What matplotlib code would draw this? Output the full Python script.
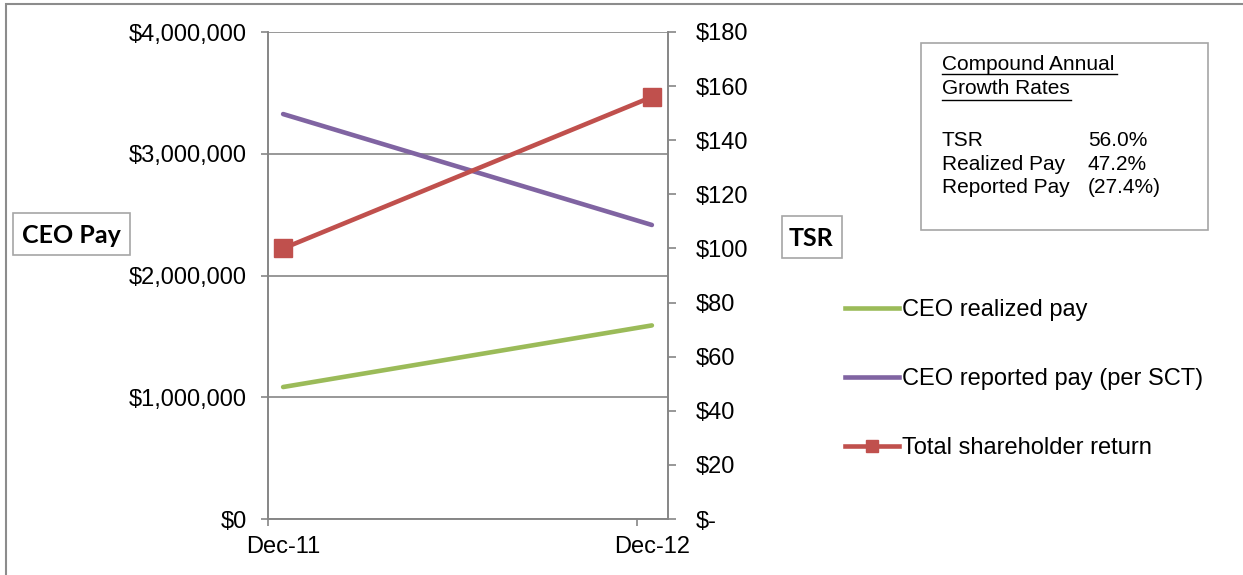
import matplotlib.pyplot as plt
import numpy as np
from matplotlib.patches import Rectangle
from matplotlib.lines import Line2D

dates = np.array(['2011-12-16', '2012-12-16'], dtype='datetime64[D]')
date_labels = ['Dec-11', 'Dec-12']
realized_pay = [1084000, 1590000]
reported_pay = [3326000, 2415000]
tsr = [100, 156]

cagr_rows = [('TSR', '56.0%'), ('Realized Pay', '47.2%'), ('Reported Pay', '(27.4%)')]

plt.rcParams['font.family'] = ['Liberation Sans', 'DejaVu Sans']
plt.rcParams['font.size'] = 17

GREEN = '#9BBB59'
PURPLE = '#8064A2'
RED = '#C0504D'
GRAY = '#868686'

fig = plt.figure(figsize=(12.43, 5.75), dpi=100)
ax = fig.add_axes([268 / 1243, 1 - 519 / 575, 400 / 1243, 487 / 575])
ax2 = ax.twinx()

ax.plot(dates, realized_pay, color=GREEN, lw=3.3, solid_capstyle='round')
ax.plot(dates, reported_pay, color=PURPLE, lw=3.3, solid_capstyle='round')
ax2.plot(dates, tsr, color=RED, lw=3.3, marker='s', markersize=13.5)

# left axis
ax.set_ylim(0, 4000000)
ax.set_yticks(np.arange(0, 4000001, 1000000))
ax.set_yticklabels(['$' + format(v, ',') for v in range(0, 4000001, 1000000)])
ax.grid(axis='y', color=GRAY, lw=1.2)
ax.set_axisbelow(True)

# right axis
ax2.set_ylim(0, 180)
ax2.set_yticks(range(0, 181, 20))
ax2.set_yticklabels(['$-'] + ['$' + str(v) for v in range(20, 181, 20)])

# date axis: tick marks on the 1st, labels under the points
ax.set_xlim(np.datetime64('2011-12-01'), np.datetime64('2013-01-01'))
ax.set_xticks([np.datetime64('2011-12-01'), np.datetime64('2012-12-01')])
ax.set_xticklabels(['', ''])
ax.set_xticks(dates, minor=True)
ax.set_xticklabels(date_labels, minor=True)
ax.tick_params(axis='x', which='minor', length=0, pad=12)
ax.tick_params(axis='x', which='major', length=5, color=GRAY, width=1.2)

ax.tick_params(axis='y', length=5, color=GRAY, width=1.2, pad=10)
ax2.tick_params(axis='y', length=6, color=GRAY, width=1.2, pad=14)
for a in (ax, ax2):
    for s in a.spines.values():
        s.set_color(GRAY)
        s.set_linewidth(1.2)
ax.spines['top'].set_visible(False)
ax2.spines['top'].set_visible(False)

# axis title boxes
fig.patches.append(Rectangle((13 / 1243, 1 - 255 / 575), 117 / 1243, 42 / 575,
                             transform=fig.transFigure, fc='white', ec='#A6A6A6', lw=1.2))
fig.patches.append(Rectangle((782 / 1243, 1 - 258 / 575), 60 / 1243, 42 / 575,
                             transform=fig.transFigure, fc='white', ec='#A6A6A6', lw=1.2))
fig.text(71 / 1243, 1 - 235 / 575, 'CEO Pay', family=['Lato', 'DejaVu Sans'], weight='bold',
         fontsize=18, ha='center', va='center')
fig.text(811 / 1243, 1 - 238 / 575, 'TSR', family=['Lato', 'DejaVu Sans'], weight='bold',
         fontsize=18, ha='center', va='center')

# legend
handles = [
    Line2D([], [], color=GREEN, lw=3.3),
    Line2D([], [], color=PURPLE, lw=3.3),
    Line2D([], [], color=RED, lw=3.3, marker='s', markersize=9),
]
labels = ['CEO realized pay', 'CEO reported pay (per SCT)', 'Total shareholder return']
fig.legend(handles, labels, loc='upper left', bbox_to_anchor=(845 / 1243, 1 - 299 / 575),
           frameon=False, handlelength=2.3, handletextpad=0.1, labelspacing=2.0,
           borderaxespad=0, borderpad=0, numpoints=1)

# CAGR text box
fig.patches.append(Rectangle((921 / 1243, 1 - 230 / 575), 287 / 1243, 187 / 575,
                             transform=fig.transFigure, fc='white', ec='#A6A6A6', lw=1.2))
fig.text(942 / 1243, 1 - 64 / 575, 'Compound Annual', fontsize=15, va='center')
fig.text(942 / 1243, 1 - 89 / 575, 'Growth Rates', fontsize=15, va='center')
fig.add_artist(Line2D([942 / 1243, 1117 / 1243], [1 - 74 / 575] * 2, color='black', lw=1))
fig.add_artist(Line2D([942 / 1243, 1071 / 1243], [1 - 100 / 575] * 2, color='black', lw=1))
for i, (name, val) in enumerate(cagr_rows):
    y = 1 - (140 + 24 * i) / 575
    fig.text(942 / 1243, y, name, fontsize=15, va='center')
    fig.text(1088 / 1243, y, val, fontsize=15, va='center')

# outer chart border
fig.patches.append(Rectangle((6 / 1243, -0.01), 1.1, 1 - 4 / 575 + 0.01,
                             transform=fig.transFigure, fill=False, ec='#8C8C8C', lw=1.5))

fig.savefig('out.png', dpi=100)
